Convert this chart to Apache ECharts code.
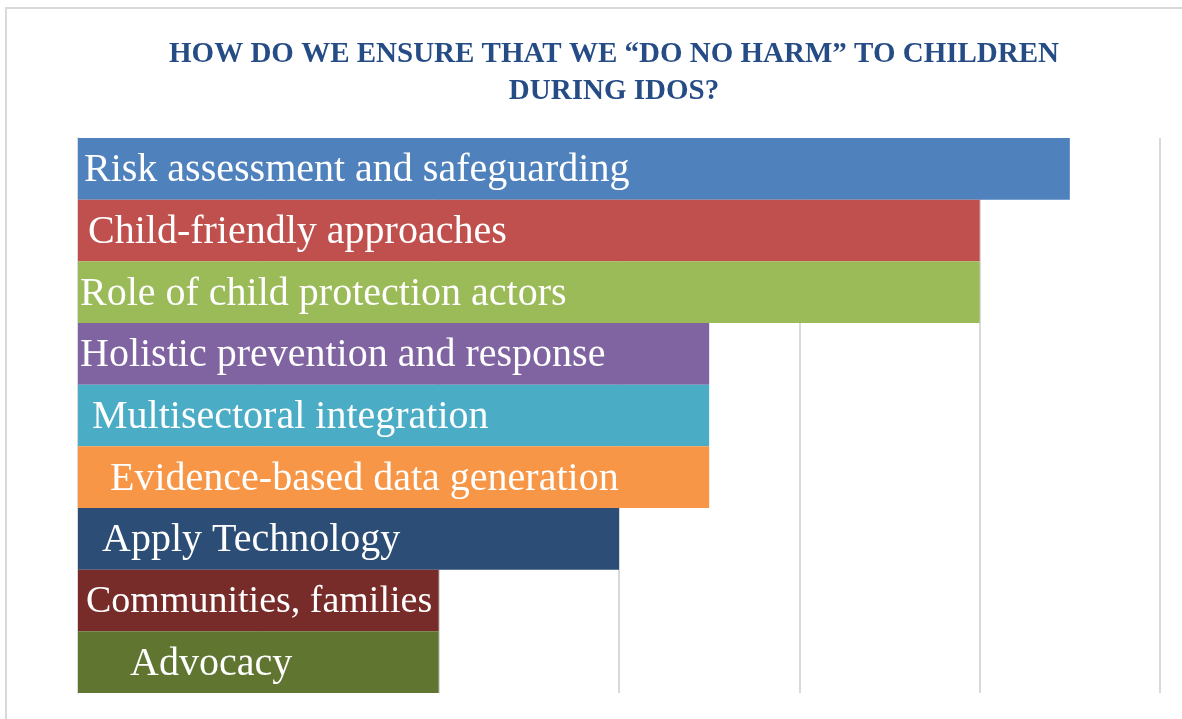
<!DOCTYPE html>
<html>
<head>
<meta charset="utf-8">
<script src="https://cdn.jsdelivr.net/npm/echarts@6/dist/echarts.min.js"></script>
<style>
html,body{margin:0;padding:0;background:#fff;}
#chart{width:1182px;height:719px;}
</style>
</head>
<body>
<div id="chart"></div>
<script>
const categories = [
  "Risk assessment and safeguarding",
  "Child-friendly approaches",
  "Role of child protection actors",
  "Holistic prevention and response",
  "Multisectoral integration",
  "Evidence-based data generation",
  "Apply Technology",
  "Communities, families",
  "Advocacy"
];
const values = [5.5, 5, 5, 3.5, 3.5, 3.5, 3, 2, 2];
const titleText = "HOW DO WE ENSURE THAT WE \u201CDO NO HARM\u201D TO CHILDREN\nDURING IDOS?";

// styles (kept separate from data)
const barColors = ["#4F81BD", "#C0504D", "#9BBB59", "#8064A2", "#4BACC6", "#F79646", "#2C4D75", "#772C2A", "#5F7530"];
const labelShift = [6, 10, 2, 2, 14, 32, 24, 8, 52];
const labelSize = [40, 40, 40, 40, 40, 40, 40, 38, 40];

const chart = echarts.init(document.getElementById('chart'));
chart.setOption({
  backgroundColor: '#ffffff',
  animation: false,
  graphic: [{
    type: 'rect', z: -10,
    shape: { x: 6, y: 8, width: 1300, height: 800 },
    style: { fill: 'none', stroke: '#d9d9d9', lineWidth: 2 }
  }],
  title: {
    text: titleText,
    left: 609, top: 31, textAlign: 'center',
    textStyle: {
      fontFamily: 'Liberation Serif', fontWeight: 'bold',
      fontSize: 29, lineHeight: 37, color: '#264C86'
    }
  },
  grid: { left: 78, right: 22, top: 138, bottom: 26, containLabel: false },
  xAxis: {
    type: 'value', min: 0, max: 6, interval: 1,
    axisLabel: { show: false }, axisTick: { show: false }, axisLine: { show: false },
    splitLine: { show: true, lineStyle: { color: '#d9d9d9', width: 2 } }
  },
  yAxis: {
    type: 'category', data: categories, inverse: true,
    axisLabel: { show: false }, axisTick: { show: false },
    axisLine: { show: true, lineStyle: { color: '#d9d9d9', width: 2 } }
  },
  series: [{
    type: 'bar',
    barCategoryGap: 0,
    data: values.map((v, i) => ({
      value: v,
      itemStyle: { color: barColors[i] },
      label: { offset: [labelShift[i], 2], fontSize: labelSize[i] }
    })),
    label: {
      show: true, position: 'insideLeft', distance: 0,
      formatter: p => categories[p.dataIndex],
      color: '#ffffff', fontFamily: 'Liberation Serif', fontSize: 40
    }
  }]
});
</script>
</body>
</html>
